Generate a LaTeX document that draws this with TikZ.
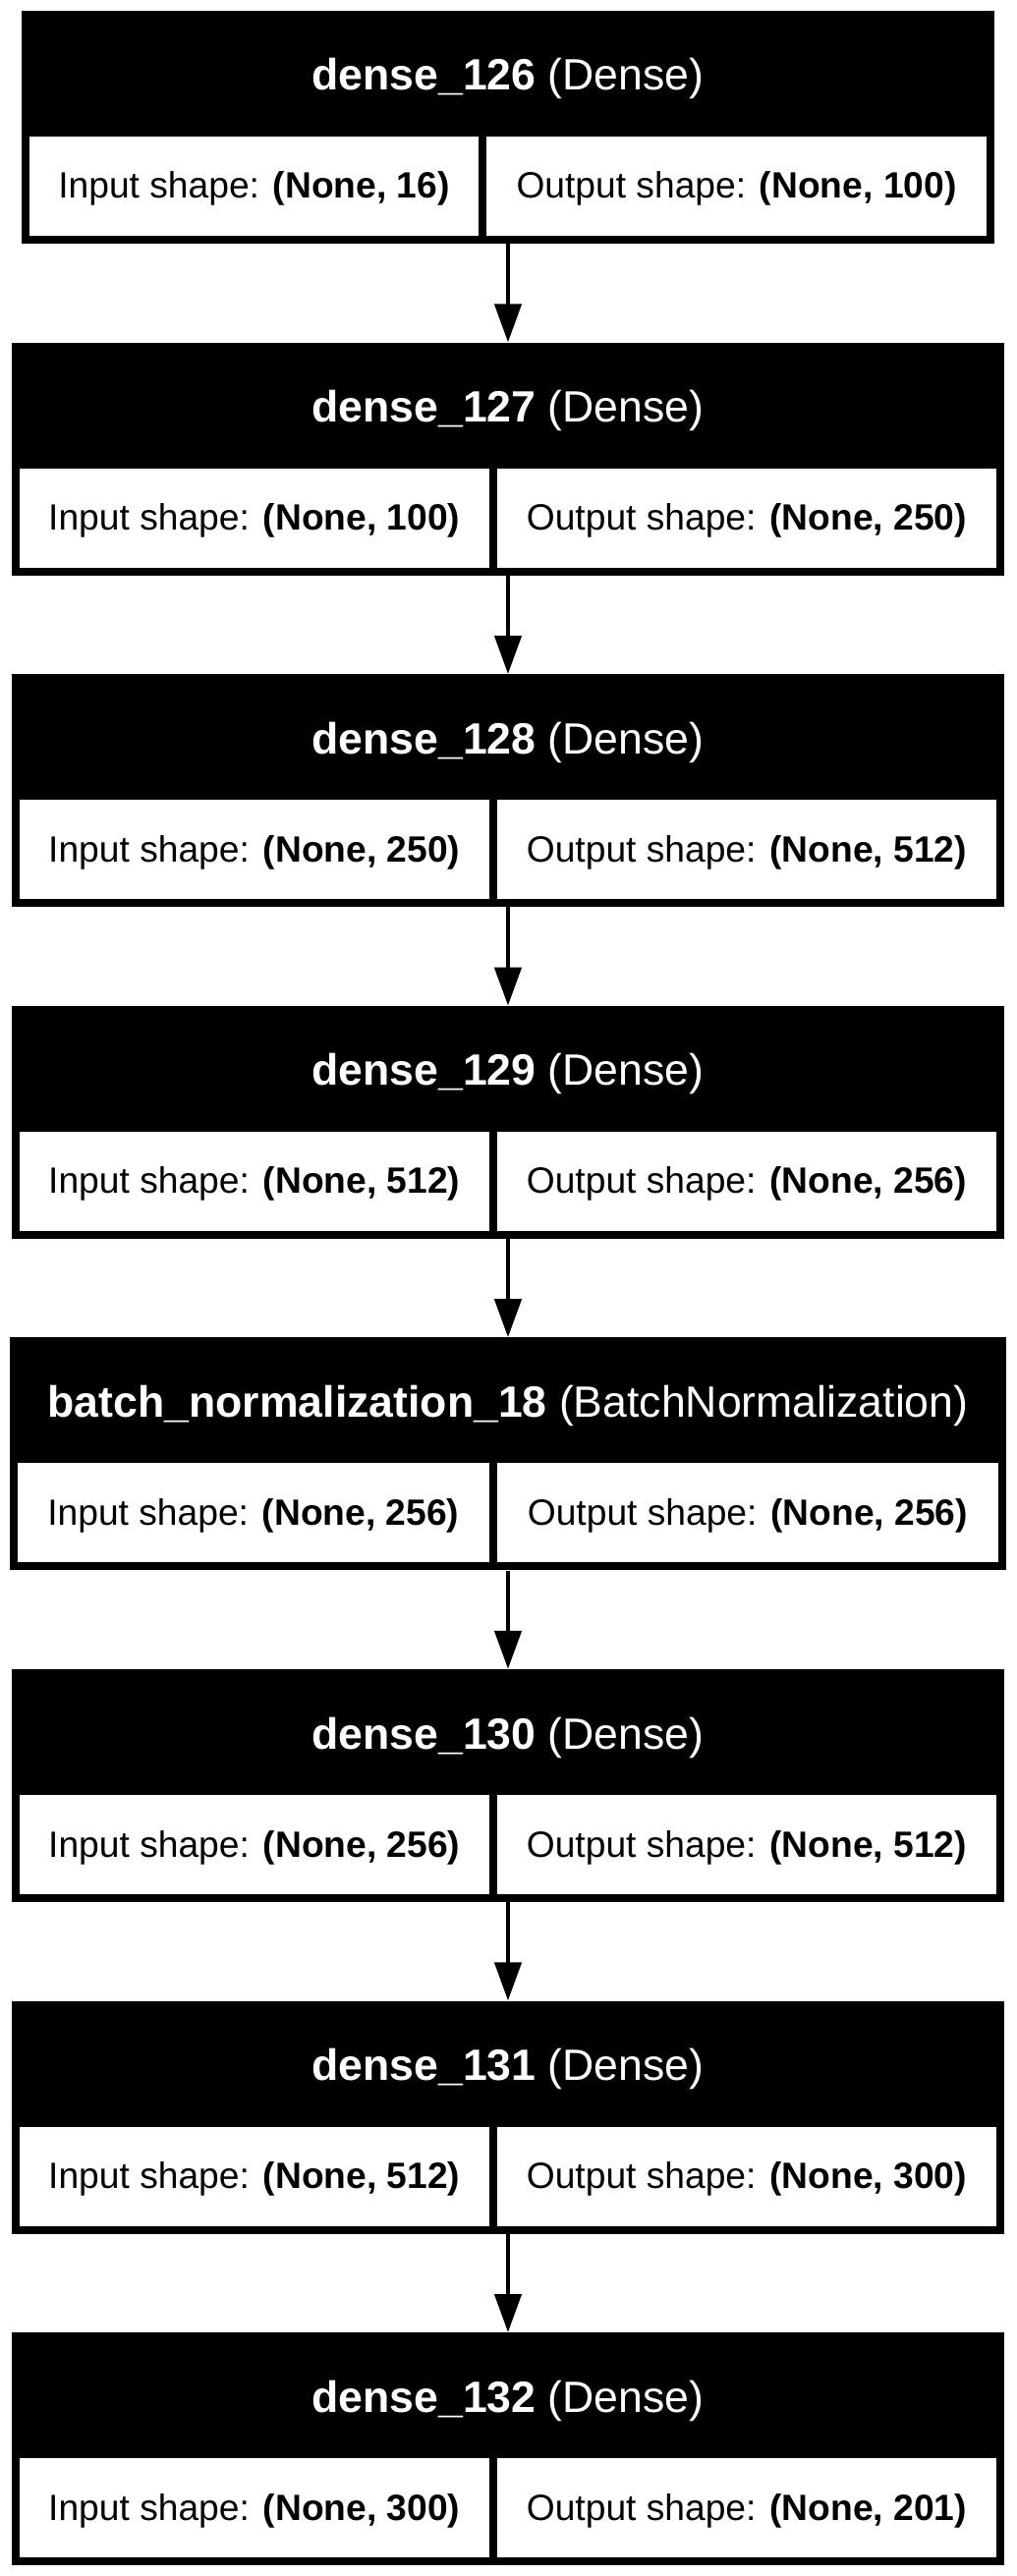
\documentclass[tikz,border=0pt]{standalone}
\usepackage{fontspec}
\setmainfont{Liberation Sans}
\usetikzlibrary{arrows.meta}
\tikzset{
  outerbox/.style={fill=black, draw=none, inner sep=0pt, minimum height=237pt},
  cellbox/.style={fill=white, draw=none, inner sep=0pt, minimum height=101pt},
  headtext/.style={text=white, anchor=base, inner sep=0pt, font=\fontsize{44.6}{52}\selectfont},
  celltext/.style={text=black, anchor=base, inner sep=0pt, font=\fontsize{37.2}{44}\selectfont},
  conn/.style={-{Triangle[length=39pt,width=27pt]}, line width=4.5pt, black},
}
% #1 name, #2 top, #3 left, #4 right, #5 left cell right edge, #6 right cell left edge,
% #7 header, #8 input, #9 output
\newcommand{\mklayer}[9]{%
  \node[outerbox, minimum width={#4-#3}] (#1) at ({(#3+#4)/2},{#2+118.5}) {};
  \node[cellbox, minimum width={#5-#3-8}] (#1i) at ({(#3+8+#5)/2},{#2+178.5}) {};
  \node[cellbox, minimum width={#4-8-#6}] (#1o) at ({(#6+#4-8)/2},{#2+178.5}) {};
  \node[headtext] (#1h) at (517,{#2+81}) {#7};
  \node[celltext] (#1it) at ({(#3+8+#5)/2},{#2+191}) {Input shape: \textbf{#8}};
  \node[celltext] (#1ot) at ({(#6+#4-8)/2},{#2+191}) {Output shape: \textbf{#9}};
}
\begin{document}
\begin{tikzpicture}[x=1pt,y=-1pt]
\useasboundingbox[fill=white] (0,0) rectangle (1034,2622);
\mklayer{b1}{11}{22}{1012}{487}{495}{\textbf{dense\_126} (Dense)}{(None, 16)}{(None, 100)}
\mklayer{b2}{348.6}{12}{1022}{497.5}{505.7}{\textbf{dense\_127} (Dense)}{(None, 100)}{(None, 250)}
\mklayer{b3}{686.2}{12}{1022}{497.5}{505.7}{\textbf{dense\_128} (Dense)}{(None, 250)}{(None, 512)}
\mklayer{b4}{1023.8}{12}{1022}{497.5}{505.7}{\textbf{dense\_129} (Dense)}{(None, 512)}{(None, 256)}
\mklayer{b5}{1361.4}{10}{1024}{497.7}{505.7}{\textbf{batch\_normalization\_18} (BatchNormalization)}{(None, 256)}{(None, 256)}
\mklayer{b6}{1699}{12}{1022}{497.5}{505.7}{\textbf{dense\_130} (Dense)}{(None, 256)}{(None, 512)}
\mklayer{b7}{2036.6}{12}{1022}{497.5}{505.7}{\textbf{dense\_131} (Dense)}{(None, 512)}{(None, 300)}
\mklayer{b8}{2374.2}{12}{1022}{497.5}{505.7}{\textbf{dense\_132} (Dense)}{(None, 300)}{(None, 201)}
\draw[conn] (b1.south) -- (b2.north);
\draw[conn] (b2.south) -- (b3.north);
\draw[conn] (b3.south) -- (b4.north);
\draw[conn] (b4.south) -- (b5.north);
\draw[conn] (b5.south) -- (b6.north);
\draw[conn] (b6.south) -- (b7.north);
\draw[conn] (b7.south) -- (b8.north);
\end{tikzpicture}
\end{document}
